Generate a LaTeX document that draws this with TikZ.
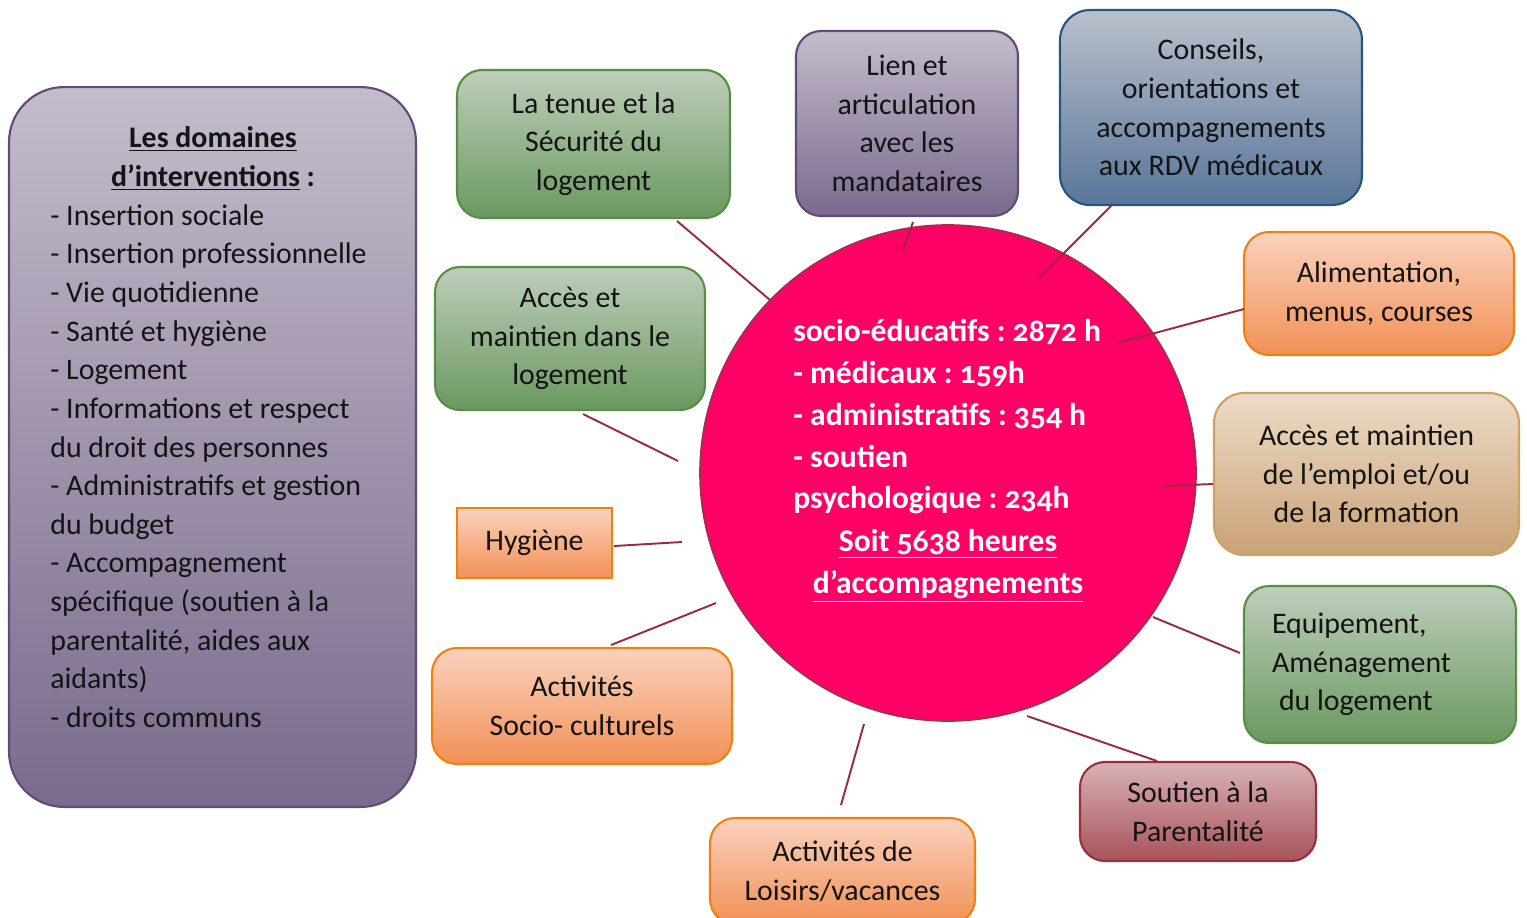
\documentclass[tikz,border=0pt]{standalone}
\usepackage{fontspec}
\setmainfont{Carlito}[Numbers=OldStyle]
\usetikzlibrary{positioning}
\frenchspacing

\definecolor{txt}{RGB}{20,20,20}
\definecolor{lnk}{RGB}{155,42,60}
\definecolor{cFill}{RGB}{255,0,102}
\definecolor{cDraw}{RGB}{160,50,70}
\definecolor{gTop}{RGB}{190,206,186}
\definecolor{gBot}{RGB}{106,152,96}
\definecolor{gDraw}{RGB}{88,142,68}
\definecolor{pTop}{RGB}{196,188,204}
\definecolor{pBot}{RGB}{122,106,140}
\definecolor{pDraw}{RGB}{96,74,122}
\definecolor{bTop}{RGB}{186,192,204}
\definecolor{bBot}{RGB}{88,118,154}
\definecolor{bDraw}{RGB}{36,86,128}
\definecolor{oTop}{RGB}{250,210,190}
\definecolor{oBot}{RGB}{242,144,86}
\definecolor{oDraw}{RGB}{240,128,16}
\definecolor{tTop}{RGB}{236,220,200}
\definecolor{tBot}{RGB}{202,162,118}
\definecolor{tDraw}{RGB}{206,160,100}
\definecolor{rTop}{RGB}{216,178,182}
\definecolor{rBot}{RGB}{168,82,90}
\definecolor{rDraw}{RGB}{152,48,60}

\begin{document}
\begin{tikzpicture}
	[
		x=0.02cm, y=-0.02cm,
		TX/.style = {rectangle, align=center, draw=none, fill=none, inner sep=0pt, text=txt, font=\fontsize{17pt}{22pt}\selectfont},
		box/.style = {TX, rounded corners=0.5cm, line width=1.2pt},
		G/.style = {box, draw=gDraw, top color=gTop, bottom color=gBot},
		P/.style = {box, draw=pDraw, top color=pTop, bottom color=pBot},
		B/.style = {box, draw=bDraw, top color=bTop, bottom color=bBot},
		O/.style = {box, draw=oDraw, top color=oTop, bottom color=oBot},
		Tn/.style = {box, draw=tDraw, top color=tTop, bottom color=tBot},
		R/.style = {box, draw=rDraw, top color=rTop, bottom color=rBot},
		W/.style = {TX, text=white, font=\fontsize{18pt}{23.8pt}\selectfont\bfseries},
		link/.style = {draw=lnk, line width=1.1pt},
	]

	\useasboundingbox (0,0) rectangle (1527,917);

	% left panel
	\node[P, minimum width=8.14cm, minimum height=14.4cm, rounded corners=1.1cm] (dom) at (212.5,447) {};
	\node[TX] (domtitle) at (213,158.5) {\underline{\textbf{Les domaines}}\\\underline{\textbf{d’interventions}}\textbf{ :}};
	\node[TX, align=left, anchor=north west] (domlist) at (50,204) {- Insertion sociale\\- Insertion professionnelle\\- Vie quotidienne\\- Santé et hygiène\\- Logement\\- Informations et respect\\du droit des personnes\\- Administratifs et gestion\\du budget\\- Accompagnement\\spécifique (soutien à la\\parentalité, aides aux\\aidants)\\- droits communs};

	% centre
	\node[circle, draw=cDraw, fill=cFill, line width=1pt, minimum size=9.92cm, inner sep=0pt] (ctr) at (948,473) {};
	\node[W, align=left, anchor=north west] (ctrtxt) at (793,319) {socio-éducatifs : 2872 h\\- médicaux : 159h\\- administratifs : 354 h\\- soutien\\psychologique : 234h};
	\node[W] (ctrtot) at (948,566) {\underline{Soit 5638 heures}\\\underline{d’accompagnements}};

	% boxes round the centre
	\node[G, minimum width=5.46cm, minimum height=2.96cm] (tenue) at (593.5,144) {La tenue et la\\Sécurité du\\logement};
	\node[G, minimum width=5.4cm, minimum height=2.86cm] (acclog) at (570,338.5) {Accès et\\maintien dans le\\logement};
	\node[O, rounded corners=0pt, minimum width=3.1cm, minimum height=1.4cm] (hyg) at (534.5,543) {Hygiène};
	\node[O, minimum width=6.0cm, minimum height=2.32cm] (actsoc) at (582,706) {Activités\\Socio- culturels};
	\node[P, minimum width=4.44cm, minimum height=3.7cm] (lien) at (907,123.5) {Lien et\\articulation\\avec les\\mandataires};
	\node[B, minimum width=6.04cm, minimum height=3.9cm, rounded corners=0.6cm] (cons) at (1211,107.5) {Conseils,\\orientations et\\accompagnements\\aux RDV médicaux};
	\node[O, minimum width=5.4cm, minimum height=2.46cm] (alim) at (1379,293.5) {Alimentation,\\menus, courses};
	\node[Tn, minimum width=6.1cm, minimum height=3.24cm, rounded corners=0.6cm] (empl) at (1366.5,474) {Accès et maintien\\de l’emploi et/ou\\de la formation};
	\node[G, align=flush left, text width=4.32cm, inner xsep=0.56cm, minimum height=3.14cm] (equip) at (1380,664.5) {Equipement,\\Aménagement\\\hspace*{0.14cm}du logement};
	\node[R, minimum width=4.72cm, minimum height=1.98cm] (sout) at (1198,811.5) {Soutien à la\\Parentalité};
	\node[O, minimum width=5.3cm, minimum height=2.12cm] (lois) at (842.5,871) {Activités de\\Loisirs/vacances};

	% connector ends
	\coordinate (tenue-a) at (677,221);   \coordinate (tenue-b) at (770,300);
	\coordinate (lien-a)  at (913,222);   \coordinate (lien-b)  at (903,251);
	\coordinate (cons-a)  at (1112,205);  \coordinate (cons-b)  at (1038,279);
	\coordinate (alim-a)  at (1244,309);  \coordinate (alim-b)  at (1118,343);
	\coordinate (empl-a)  at (1213,484);  \coordinate (empl-b)  at (1164,486);
	\coordinate (equip-a) at (1240,653);  \coordinate (equip-b) at (1153,617);
	\coordinate (sout-a)  at (1157,761);  \coordinate (sout-b)  at (1027,716);
	\coordinate (lois-a)  at (841,805);   \coordinate (lois-b)  at (864,724);
	\coordinate (soc-a)   at (611,645);   \coordinate (soc-b)   at (716,603);
	\coordinate (hyg-a)   at (614,546);   \coordinate (hyg-b)   at (682,542);
	\coordinate (acc-a)   at (583,414);   \coordinate (acc-b)   at (678,461);

	\foreach \from/\to in {tenue-a/tenue-b,lien-a/lien-b,cons-a/cons-b,alim-a/alim-b,empl-a/empl-b,equip-a/equip-b,sout-a/sout-b,lois-a/lois-b,soc-a/soc-b,hyg-a/hyg-b,acc-a/acc-b}
	\draw[link] (\from) -- (\to);

\end{tikzpicture}
\end{document}
